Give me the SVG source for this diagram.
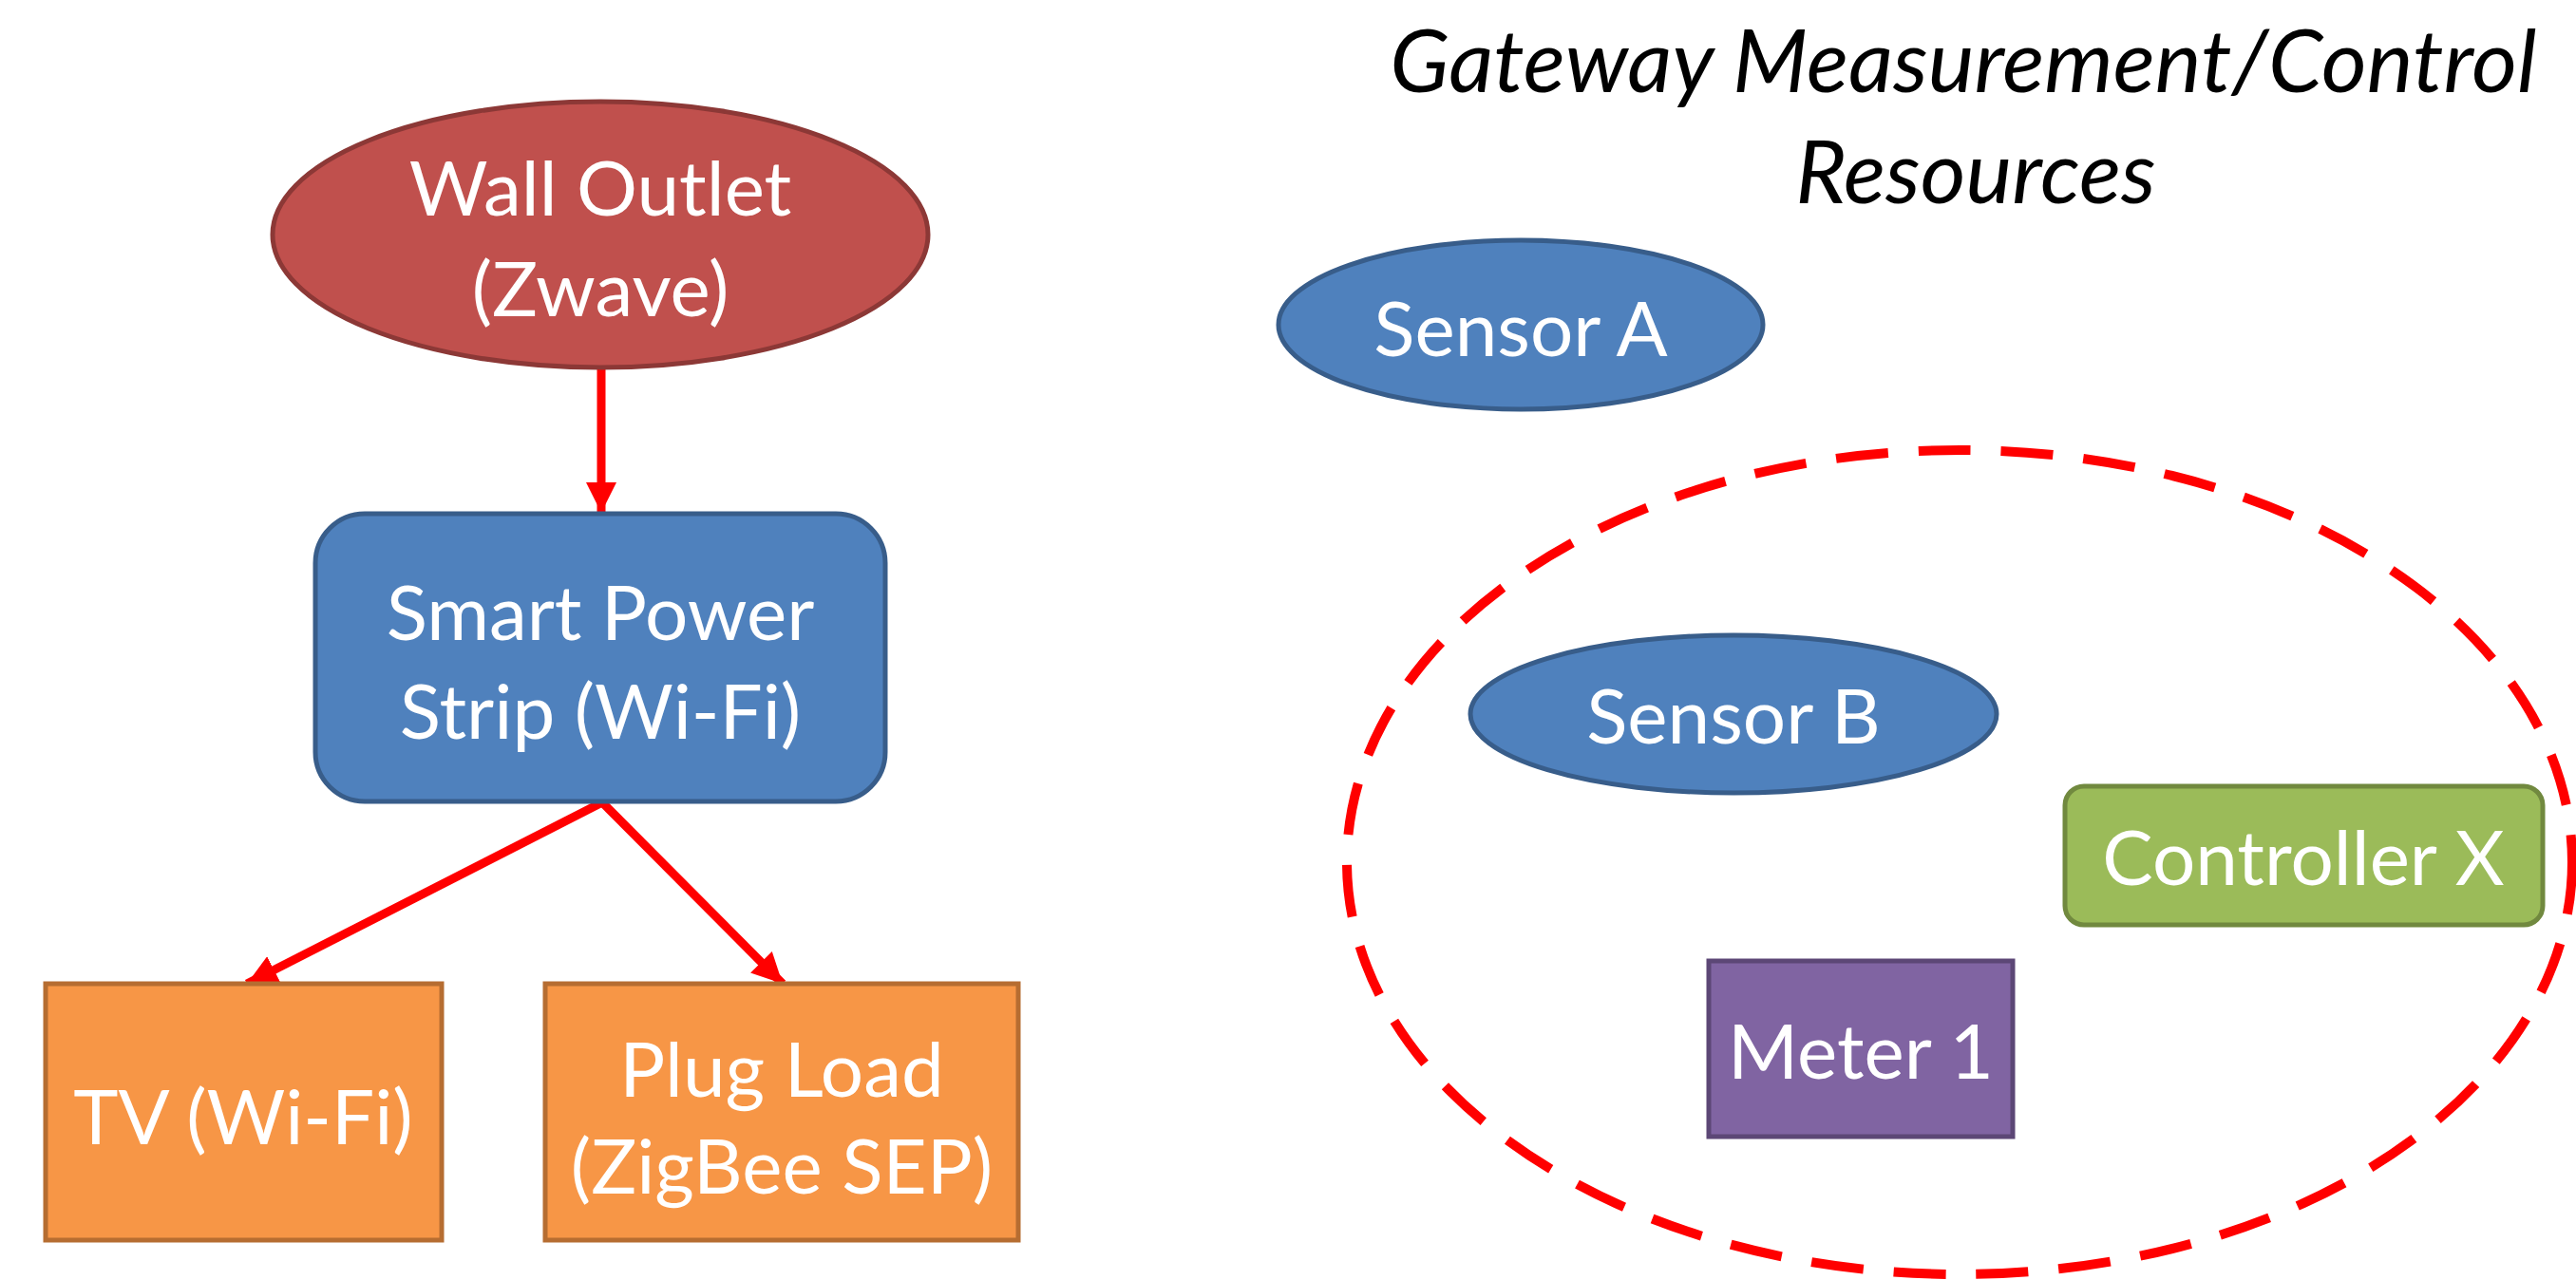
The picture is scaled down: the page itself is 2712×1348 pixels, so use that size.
<svg xmlns="http://www.w3.org/2000/svg" width="2712" height="1348" viewBox="0 0 2712 1348">
  <style>
    .lbl { font-family: Lato, "Open Sans", "Liberation Sans", sans-serif; font-size: 80px; fill: #FFFFFF; text-anchor: middle; dominant-baseline: central; }
    .title { font-family: Lato, "Open Sans", "Liberation Sans", sans-serif; font-size: 92px; font-style: italic; fill: #000000; text-anchor: middle; }
    .blue { fill: #4F81BD; stroke: #385D8A; stroke-width: 5; }
    .red { fill: #C0504D; stroke: #8C3836; stroke-width: 5; }
    .orange { fill: #F79646; stroke: #B66D31; stroke-width: 5; }
    .green { fill: #9BBB59; stroke: #71893F; stroke-width: 5; }
    .purple { fill: #8064A2; stroke: #5C4776; stroke-width: 5; }
    .conn { stroke: #FF0000; stroke-width: 9; fill: none; marker-end: url(#arrow); }
  </style>
  <defs>
    <marker id="arrow" markerUnits="userSpaceOnUse" markerWidth="34" markerHeight="32" refX="32" refY="16" orient="auto">
      <path d="M0,0 L32,16 L0,32 Z" fill="#FF0000"/>
    </marker>
  </defs>
  <rect width="2712" height="1348" fill="#FFFFFF"/>

  <text class="title" x="2067" y="97">Gateway Measurement/Control</text>
  <text class="title" x="2080" y="214">Resources</text>

  <g id="connectors">
    <line class="conn" x1="633" y1="387" x2="633" y2="540"/>
    <line class="conn" x1="634" y1="845" x2="260" y2="1036"/>
    <line class="conn" x1="634" y1="845" x2="824" y2="1036"/>
  </g>

  <g id="wall-outlet">
    <ellipse class="red" cx="632" cy="247" rx="345" ry="140"/>
    <text class="lbl" x="632" y="196">Wall Outlet</text>
    <text class="lbl" x="632" y="302">(Zwave)</text>
  </g>

  <g id="smart-power-strip">
    <rect class="blue" x="332" y="541" width="600" height="303" rx="52" ry="52"/>
    <text class="lbl" x="632" y="643">Smart Power</text>
    <text class="lbl" x="632" y="747">Strip (Wi-Fi)</text>
  </g>

  <g id="tv">
    <rect class="orange" x="48" y="1036" width="417" height="270"/>
    <text class="lbl" x="256" y="1174">TV (Wi-Fi)</text>
  </g>

  <g id="plug-load">
    <rect class="orange" x="574" y="1036" width="498" height="270"/>
    <text class="lbl" x="823" y="1124">Plug Load</text>
    <text class="lbl" x="823" y="1226">(ZigBee SEP)</text>
  </g>

  <g id="sensor-a">
    <ellipse class="blue" cx="1601" cy="342" rx="255" ry="89"/>
    <text class="lbl" x="1601" y="344">Sensor A</text>
  </g>

  <g id="gateway-group">
    <ellipse cx="2063" cy="908" rx="645" ry="434" fill="none" stroke="#FF0000" stroke-width="10" stroke-dasharray="55 32"/>
  </g>

  <g id="sensor-b">
    <ellipse class="blue" cx="1825" cy="752" rx="277" ry="83"/>
    <text class="lbl" x="1825" y="752">Sensor B</text>
  </g>

  <g id="controller-x">
    <rect class="green" x="2174" y="828" width="503" height="146" rx="20" ry="20"/>
    <text class="lbl" x="2425" y="901">Controller X</text>
  </g>

  <g id="meter-1">
    <rect class="purple" x="1799" y="1012" width="320" height="185"/>
    <text class="lbl" x="1959" y="1105">Meter 1</text>
  </g>
</svg>
